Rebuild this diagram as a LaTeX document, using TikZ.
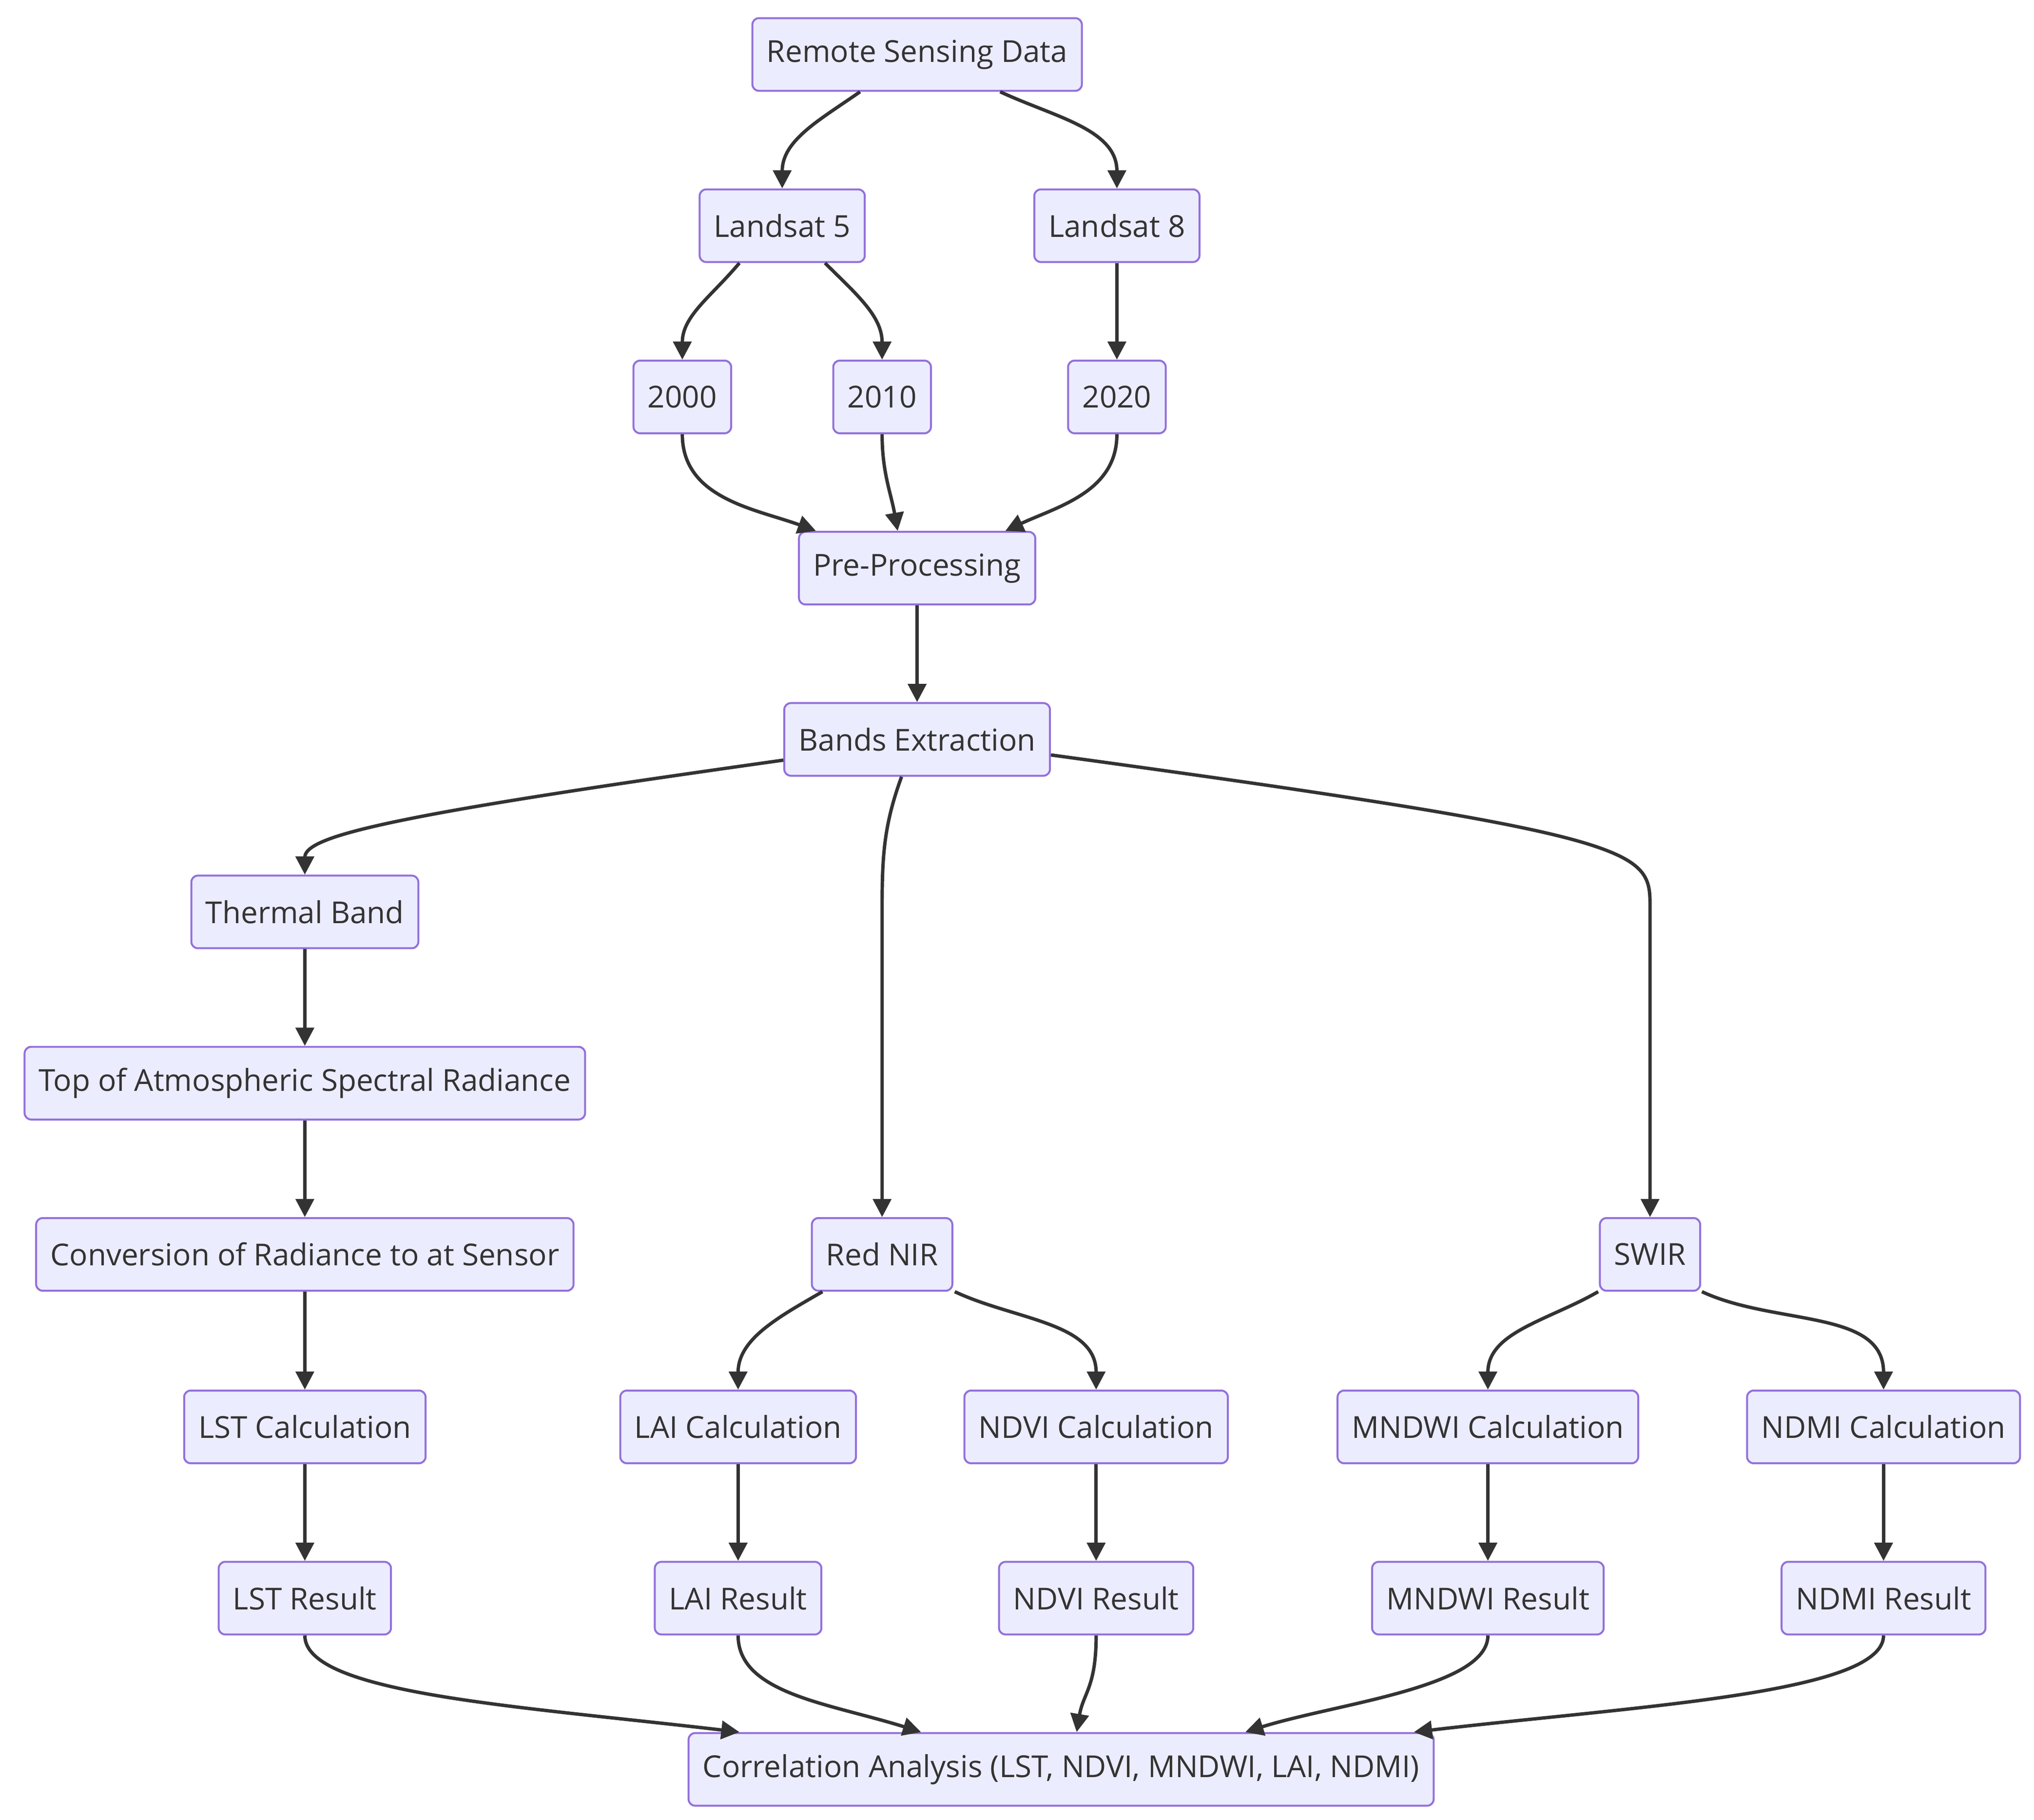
\documentclass[tikz,border=0pt]{standalone}
\usepackage{fontspec}
\setmainfont{Open Sans}
\usetikzlibrary{arrows.meta}
\definecolor{nf}{HTML}{ECECFF}
\definecolor{ns}{HTML}{9370DB}
\definecolor{ln}{HTML}{333333}
\begin{document}
\begin{tikzpicture}[x=1pt,y=-1pt,
  box/.style={draw=ns,fill=nf,line width=1.5pt,rounded corners=5pt,minimum height=56pt,inner xsep=11pt,font=\fontsize{23.3}{27}\selectfont,text=ln},
  ar/.style={draw=ln,line width=2.6pt,-{Triangle[length=14pt,width=14pt]}}]
\useasboundingbox[fill=white] (0,0) rectangle (1568,1403);
\node[box] (rs) at (707,42) {Remote Sensing Data};
\node[box] (l5) at (603,174) {Landsat 5};
\node[box] (l8) at (861,174) {Landsat 8};
\node[box] (y0) at (526,306) {2000};
\node[box] (y1) at (680,306) {2010};
\node[box] (y2) at (861,306) {2020};
\node[box] (pp) at (707,438) {Pre-Processing};
\node[box] (be) at (707,570) {Bands Extraction};
\node[box] (th) at (235,703) {Thermal Band};
\node[box] (ta) at (235,835) {Top of Atmospheric Spectral Radiance};
\node[box] (cv) at (235,967) {Conversion of Radiance to at Sensor};
\node[box] (lc) at (235,1100) {LST Calculation};
\node[box] (lr) at (235,1232) {LST Result};
\node[box] (rn) at (680,967) {Red NIR};
\node[box] (sw) at (1272,967) {SWIR};
\node[box] (ac) at (569,1100) {LAI Calculation};
\node[box] (nc) at (845,1100) {NDVI Calculation};
\node[box] (mc) at (1147,1100) {MNDWI Calculation};
\node[box] (dc) at (1452,1100) {NDMI Calculation};
\node[box] (ar) at (569,1232) {LAI Result};
\node[box] (nr) at (845,1232) {NDVI Result};
\node[box] (mr) at (1147,1232) {MNDWI Result};
\node[box] (dr) at (1452,1232) {NDMI Result};
\node[box] (co) at (818,1364) {Correlation Analysis (LST, NDVI, MNDWI, LAI, NDMI)};

\draw[ar] ([xshift=-44pt]rs.south) to[out=-145,in=90] (l5.north);
\draw[ar] ([xshift=64pt]rs.south) to[out=-25,in=90] (l8.north);
\draw[ar] ([xshift=-33pt]l5.south) to[out=-130,in=90] (y0.north);
\draw[ar] ([xshift=33pt]l5.south) to[out=-45,in=90] (y1.north);
\draw[ar] (l8.south) -- (y2.north);
\draw[ar] (y0.south) to[out=-90,in=160] ([xshift=-78pt]pp.north);
\draw[ar] (y1.south) to[out=-90,in=100] ([xshift=-15pt]pp.north);
\draw[ar] (y2.south) to[out=-90,in=25] ([xshift=68pt]pp.north);
\draw[ar] (pp.south) -- (be.north);
\draw[ar] ([yshift=-16pt]be.west) .. controls +(-300,42) and +(0,-30) .. (th.north);
\draw[ar] ([xshift=-12pt]be.south) to[out=-110,in=90] (680,700) -- (rn.north);
\draw[ar] ([yshift=-12pt]be.east) .. controls (1272,645) and (1272,655) .. (1272,700) -- (sw.north);
\draw[ar] (th.south) -- (ta.north);
\draw[ar] (ta.south) -- (cv.north);
\draw[ar] (cv.south) -- (lc.north);
\draw[ar] (lc.south) -- (lr.north);
\draw[ar] ([xshift=-46pt]rn.south) to[out=-150,in=90] (ac.north);
\draw[ar] ([xshift=56pt]rn.south) to[out=-25,in=90] (nc.north);
\draw[ar] ([xshift=-40pt]sw.south) to[out=-150,in=90] (mc.north);
\draw[ar] ([xshift=40pt]sw.south) to[out=-25,in=90] (dc.north);
\draw[ar] (ac.south) -- (ar.north);
\draw[ar] (nc.south) -- (nr.north);
\draw[ar] (mc.south) -- (mr.north);
\draw[ar] (dc.south) -- (dr.north);
\draw[ar] (lr.south) .. controls +(0,45) and +(-170,-20) .. ([xshift=-248pt]co.north);
\draw[ar] (ar.south) .. controls +(0,45) and +(-70,-22) .. ([xshift=-108pt]co.north);
\draw[ar] (nr.south) .. controls +(0,40) and +(5,-30) .. ([xshift=12pt]co.north);
\draw[ar] (mr.south) .. controls +(0,40) and +(70,-22) .. ([xshift=142pt]co.north);
\draw[ar] (dr.south) .. controls +(0,45) and +(170,-20) .. ([xshift=272pt]co.north);
\end{tikzpicture}
\end{document}
